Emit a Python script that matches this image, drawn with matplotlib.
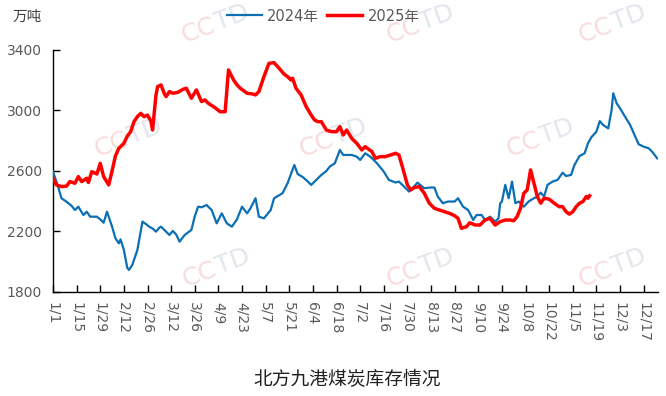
import numpy as np
import pandas as pd
import matplotlib
matplotlib.use("Agg")
import matplotlib.pyplot as plt
import math

plt.rcParams['font.family'] = ['DejaVu Sans', 'Noto Sans CJK SC']

# ---------------- data (day offset from Jan 1, inventory in 10k tonnes) -------------
day_2024 = [0, 3, 5, 8, 11, 13, 15, 18, 20, 22, 26, 28, 30, 32, 35, 37, 39, 40, 42, 44,
            45, 47, 50, 53, 55, 57, 59, 61, 63, 64, 66, 69, 71, 73, 75, 78, 82, 84, 86, 88,
            91, 94, 97, 100, 103, 106, 109, 112, 115, 117, 120, 122, 125, 129, 131, 134, 136, 139, 141, 143,
            145, 148, 151, 153, 156, 159, 162, 164, 167, 170, 172, 175, 177, 180, 182, 185, 188, 192, 196, 199,
            203, 205, 207, 211, 213, 216, 220, 223, 226, 228, 231, 234, 238, 240, 243, 246, 249, 251, 254, 256,
            259, 262, 264, 265, 266, 268, 270, 272, 274, 276, 279, 282, 285, 287, 289, 291, 293, 296, 299, 302,
            304, 307, 309, 312, 315, 317, 319, 322, 324, 326, 329, 331, 332, 334, 336, 339, 342, 345, 347, 350,
            353, 355, 358]
stock_2024 = [2596, 2497, 2420, 2397, 2370, 2342, 2364, 2309, 2331, 2298, 2298, 2280, 2258, 2331, 2232, 2155, 2122, 2148, 2078, 1960,
              1946, 1979, 2078, 2265, 2250, 2232, 2220, 2199, 2225, 2232, 2210, 2177, 2204, 2180, 2133, 2177, 2210, 2300, 2364, 2360,
              2375, 2342, 2254, 2320, 2254, 2232, 2280, 2364, 2320, 2353, 2420, 2298, 2287, 2342, 2420, 2440, 2453, 2519, 2580, 2640,
              2580, 2560, 2530, 2508, 2541, 2574, 2600, 2629, 2651, 2739, 2706, 2706, 2706, 2695, 2673, 2717, 2695, 2651, 2596, 2541,
              2524, 2530, 2508, 2464, 2486, 2523, 2486, 2490, 2491, 2431, 2387, 2398, 2398, 2420, 2364, 2342, 2276, 2309, 2309, 2276,
              2298, 2265, 2287, 2387, 2398, 2508, 2420, 2530, 2387, 2398, 2364, 2400, 2420, 2430, 2457, 2431, 2508, 2530, 2541, 2589,
              2567, 2574, 2640, 2699, 2717, 2783, 2823, 2860, 2930, 2904, 2882, 3003, 3114, 3048, 3014, 2959, 2904, 2827, 2777, 2761,
              2750, 2728, 2684]

day_2025 = [0, 2, 5, 8, 10, 13, 15, 17, 20, 21, 23, 26, 28, 30, 33, 35, 37, 39, 42, 44,
            46, 48, 50, 52, 54, 56, 58, 59, 61, 62, 64, 66, 67, 69, 71, 74, 77, 79, 82, 85,
            88, 90, 92, 95, 97, 99, 102, 104, 107, 109, 111, 115, 118, 120, 122, 125, 128, 131, 134, 137,
            139, 141, 142, 144, 147, 150, 153, 155, 157, 159, 162, 165, 168, 170, 172, 174, 177, 180, 183, 185,
            189, 191, 194, 197, 200, 203, 205, 207, 210, 212, 214, 217, 220, 223, 226, 229, 232, 235, 238, 240,
            242, 245, 247, 250, 253, 256, 259, 262, 265, 268, 271, 273, 275, 277, 279, 281, 283, 285, 287, 289,
            291, 294, 297, 300, 302, 304, 306, 308, 310, 312, 314, 316, 317, 318]
stock_2025 = [2552, 2508, 2497, 2500, 2530, 2519, 2563, 2530, 2552, 2524, 2596, 2580, 2651, 2563, 2508, 2600, 2700, 2750, 2783, 2830,
              2860, 2926, 2960, 2981, 2959, 2970, 2930, 2871, 3100, 3158, 3169, 3110, 3092, 3125, 3114, 3120, 3140, 3147, 3081, 3136,
              3059, 3070, 3048, 3026, 3010, 2992, 2992, 3268, 3202, 3170, 3147, 3114, 3110, 3103, 3125, 3224, 3312, 3316, 3279, 3240,
              3224, 3202, 3213, 3147, 3103, 3026, 2970, 2937, 2926, 2926, 2871, 2860, 2860, 2893, 2838, 2871, 2816, 2783, 2739, 2761,
              2728, 2684, 2695, 2695, 2706, 2717, 2706, 2629, 2508, 2475, 2490, 2497, 2453, 2387, 2353, 2342, 2331, 2320, 2304, 2287,
              2221, 2232, 2258, 2243, 2243, 2276, 2287, 2243, 2265, 2276, 2276, 2271, 2298, 2353, 2453, 2475, 2607, 2519, 2431, 2387,
              2420, 2414, 2387, 2364, 2364, 2331, 2315, 2331, 2364, 2387, 2398, 2431, 2420, 2436]

series_labels = ['2024年', '2025年']
tick_labels = ['1/1', '1/15', '1/29', '2/12', '2/26', '3/12', '3/26', '4/9', '4/23', '5/7',
               '5/21', '6/4', '6/18', '7/2', '7/16', '7/30', '8/13', '8/27', '9/10', '9/24',
               '10/8', '10/22', '11/5', '11/19', '12/3', '12/17']
y_ticks = [1800, 2200, 2600, 3000, 3400]
unit_label = '万吨'
title = '北方九港煤炭库存情况'

# tick positions: day-of-year offsets in the (non-leap) display year
tick_pos = [(pd.Timestamp(f"2025-{lab.split('/')[0]}-{lab.split('/')[1]}") - pd.Timestamp('2025-01-01')).days
            for lab in tick_labels]

W, H = 666, 396
fig = plt.figure(figsize=(W / 100, H / 100), dpi=100)
fig.patch.set_facecolor('white')

# ---------------- watermarks ----------------
def watermark(cx, cy, ang=20, d=18):
    a = math.radians(ang)
    dx, dy = d * math.cos(a), d * math.sin(a)
    fig.text((cx - dx) / W, 1 - (cy + dy) / H, 'CC', rotation=ang, fontsize=18,
             color='#f8dddd', ha='center', va='center', zorder=-5, family='DejaVu Sans')
    fig.text((cx + dx) / W, 1 - (cy - dy) / H, 'TD', rotation=ang, fontsize=18,
             color='#e4e6ee', ha='center', va='center', zorder=-5, family='DejaVu Sans')

for cx, cy in [(215, 24), (420, 24), (612, 24),
               (128, 138), (333, 138), (540, 138),
               (216, 268), (420, 268), (612, 268)]:
    watermark(cx, cy)

# ---------------- axes ----------------
ax = fig.add_axes([53 / W, 1 - 292 / H, (658 - 53) / W, (292 - 50) / H])
ax.patch.set_alpha(0)

l1, = ax.plot(day_2024, stock_2024, color='#0a6fb5', lw=1.6, label=series_labels[0], zorder=3)
l2, = ax.plot(day_2025, stock_2025, color='#ff0000', lw=2.5, label=series_labels[1], zorder=4)

ax.set_xlim(0, 358.5)
ax.set_ylim(1800, 3400)
ax.set_yticks(y_ticks)
ax.set_xticks(tick_pos)
ax.set_xticklabels(tick_labels, rotation=270, va='top', ha='center')
for s in ['top', 'right']:
    ax.spines[s].set_visible(False)
for s in ['left', 'bottom']:
    ax.spines[s].set_color('black')
    ax.spines[s].set_linewidth(1.0)
ax.tick_params(axis='both', direction='in', length=5, width=1, colors='black',
               labelcolor='#595959', labelsize=10)
ax.tick_params(axis='y', pad=8)
ax.tick_params(axis='x', pad=7)

fig.text(13 / W, 1 - 16 / H, unit_label, fontsize=10.5, color='#404040', ha='left', va='center')
fig.text(347 / W, 1 - 380 / H, title, fontsize=13.5, color='#202020', ha='center', va='center')

fig.legend(handles=[l1, l2], loc='center', bbox_to_anchor=(323 / W, 1 - 16 / H), ncol=2,
           frameon=False, fontsize=10.5, handlelength=2.4, handletextpad=0.4,
           columnspacing=0.5, labelcolor='#595959')

fig.savefig('out.png', dpi=100, facecolor='white')
